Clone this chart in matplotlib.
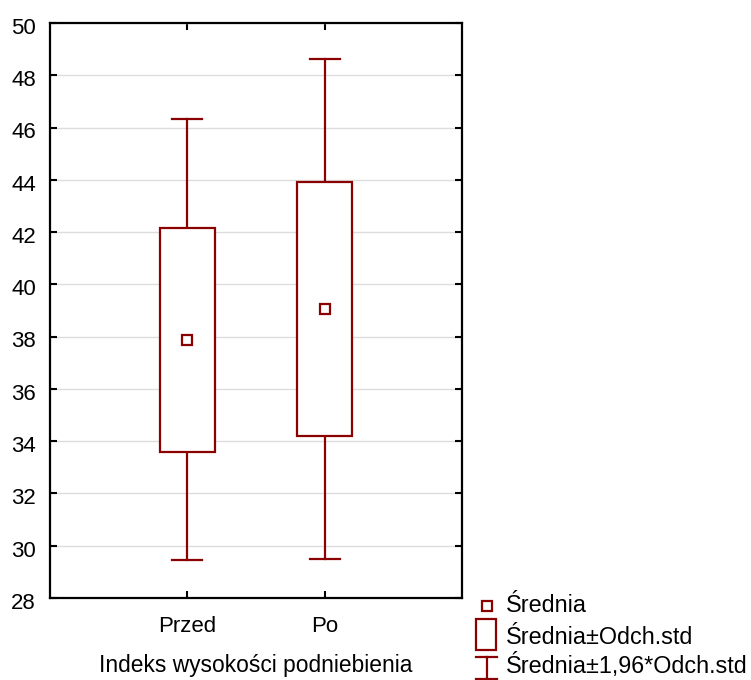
import matplotlib
matplotlib.use("Agg")
import matplotlib.pyplot as plt
from matplotlib.patches import Rectangle
from matplotlib.lines import Line2D
from matplotlib.transforms import ScaledTranslation

plt.rcParams['font.family'] = ['Liberation Sans', 'DejaVu Sans']

categories = ["Przed", "Po"]
means = [37.87, 39.07]
box_low = [33.57, 34.18]
box_high = [42.17, 43.93]
whisk_low = [29.45, 29.48]
whisk_high = [46.31, 48.63]
yticks = [28, 30, 32, 34, 36, 38, 40, 42, 44, 46, 48, 50]

col = "#8B0000"
FS = 16
LFS = 16.8
fig = plt.figure(figsize=(7.51, 6.80), dpi=100)
ax = fig.add_axes([50/751, 82/680, 412/751, 575/680])

pos = [1, 2]
bw = 0.4
cw = 0.22
for p, m, bl, bh, wl, wh in zip(pos, means, box_low, box_high, whisk_low, whisk_high):
    ax.plot([p, p], [bh, wh], color=col, lw=1.6, zorder=3)
    ax.plot([p, p], [wl, bl], color=col, lw=1.6, zorder=3)
    ax.plot([p - cw/2, p + cw/2], [wh, wh], color=col, lw=1.6, zorder=3)
    ax.plot([p - cw/2, p + cw/2], [wl, wl], color=col, lw=1.6, zorder=3)
    ax.add_patch(Rectangle((p - bw/2, bl), bw, bh - bl, facecolor='white',
                           edgecolor=col, lw=1.6, zorder=4))
    ax.plot([p], [m], marker='s', ms=7, mfc='white', mec=col, mew=1.6, zorder=5)

ax.set_xlim(0, 3)
ax.set_ylim(28, 50)
ax.set_yticks(yticks)
ax.set_xticks(pos)
ax.set_xticklabels(categories)
ax.yaxis.grid(True, color='#dddddd', lw=1)
ax.set_axisbelow(True)
ax.tick_params(direction='in', length=5, width=1.5, labelsize=FS,
               top=True, right=True, colors='black')
ax.tick_params(axis='y', pad=10)
ax.tick_params(axis='x', pad=13)
for lab in ax.get_yticklabels():
    lab.set_transform(lab.get_transform() + ScaledTranslation(0, -2/72, fig.dpi_scale_trans))
for s in ax.spines.values():
    s.set_linewidth(1.6)
ax.set_xlabel("Indeks wysokości podniebienia", fontsize=FS + 0.4, labelpad=12)

# legend (drawn in figure pixel coordinates)
def fx(x): return x / 751
def fy(y): return 1 - y / 680
fig.add_artist(Line2D([fx(487)], [fy(606)], marker='s', ms=7, mfc='white', mec=col, mew=1.6))
fig.text(fx(506), fy(606), "Średnia", fontsize=LFS, va='center')
fig.add_artist(Rectangle((fx(476), fy(650)), 20/751, 31/680, facecolor='white',
                         edgecolor=col, lw=1.6, transform=fig.transFigure))
fig.text(fx(506), fy(637), "Średnia±Odch.std", fontsize=LFS, va='center')
fig.add_artist(Line2D([fx(476), fx(497)], [fy(657), fy(657)], color=col, lw=1.6))
fig.add_artist(Line2D([fx(487), fx(487)], [fy(657), fy(680)], color=col, lw=1.6))
fig.add_artist(Line2D([fx(476), fx(497)], [fy(679), fy(679)], color=col, lw=1.6))
fig.text(fx(506), fy(666), "Średnia±1,96*Odch.std", fontsize=LFS, va='center')

fig.savefig("out.png", dpi=100)
